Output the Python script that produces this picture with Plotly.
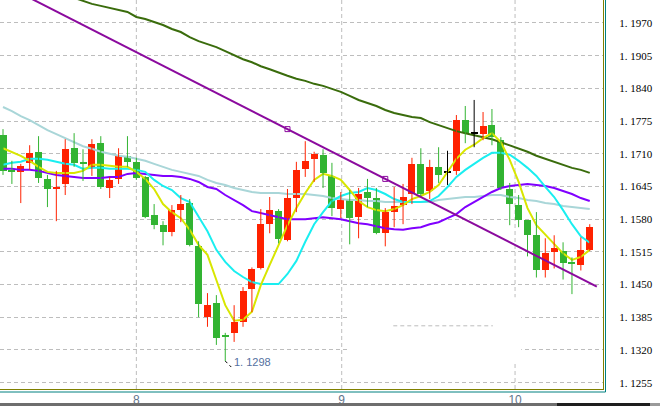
import plotly.graph_objects as go

# ---------------- data ----------------
open_ = [1.1747, 1.1675, 1.1674, 1.1692, 1.1714, 1.1660, 1.1641, 1.1650, 1.1721, 1.1691,
         1.1684, 1.1731, 1.1642, 1.1660, 1.1706, 1.1694, 1.1664, 1.1588, 1.1568, 1.1554,
         1.1598, 1.1612, 1.1526, 1.1385, 1.1413, 1.1347, 1.1354, 1.1375, 1.1441, 1.1482,
         1.1570, 1.1596, 1.1538, 1.1622, 1.1680, 1.1700, 1.1708, 1.1666, 1.1600, 1.1620,
         1.1584, 1.1634, 1.1622, 1.1552, 1.1594, 1.1608, 1.1630, 1.1690, 1.1636, 1.1684,
         1.1672, 1.1676, 1.1777, 1.1751, 1.1749, 1.1767, 1.1737, 1.1640, 1.1608, 1.1578,
         1.1548, 1.1478, 1.1514, 1.1516, 1.1493, 1.1488, 1.1518]
high_ = [1.1759, 1.1696, 1.1690, 1.1727, 1.1745, 1.1668, 1.1676, 1.1739, 1.1751, 1.1719,
         1.1739, 1.1745, 1.1664, 1.1721, 1.1745, 1.1702, 1.1666, 1.1610, 1.1576, 1.1608,
         1.1628, 1.1620, 1.1536, 1.1433, 1.1429, 1.1354, 1.1409, 1.1445, 1.1484, 1.1600,
         1.1624, 1.1600, 1.1640, 1.1694, 1.1735, 1.1714, 1.1719, 1.1692, 1.1634, 1.1638,
         1.1642, 1.1660, 1.1642, 1.1602, 1.1644, 1.1650, 1.1702, 1.1721, 1.1698, 1.1723,
         1.1716, 1.1787, 1.1805, 1.1817, 1.1793, 1.1799, 1.1743, 1.1652, 1.1628, 1.1578,
         1.1594, 1.1542, 1.1548, 1.1534, 1.1504, 1.1544, 1.1570]
low_ = [1.1668, 1.1650, 1.1612, 1.1678, 1.1652, 1.1604, 1.1576, 1.1628, 1.1684, 1.1656,
        1.1666, 1.1640, 1.1622, 1.1650, 1.1684, 1.1658, 1.1582, 1.1560, 1.1528, 1.1546,
        1.1574, 1.1526, 1.1385, 1.1366, 1.1330, 1.1298, 1.1336, 1.1366, 1.1395, 1.1480,
        1.1552, 1.1532, 1.1536, 1.1594, 1.1664, 1.1654, 1.1642, 1.1586, 1.1582, 1.1530,
        1.1542, 1.1604, 1.1550, 1.1526, 1.1564, 1.1570, 1.1610, 1.1624, 1.1620, 1.1652,
        1.1648, 1.1668, 1.1731, 1.1723, 1.1737, 1.1727, 1.1638, 1.1568, 1.1564, 1.1506,
        1.1464, 1.1464, 1.1482, 1.1460, 1.1431, 1.1478, 1.1517]
close_ = [1.1676, 1.1674, 1.1686, 1.1712, 1.1662, 1.1640, 1.1643, 1.1719, 1.1692, 1.1690,
          1.1729, 1.1644, 1.1658, 1.1706, 1.1694, 1.1662, 1.1584, 1.1568, 1.1554, 1.1598,
          1.1610, 1.1528, 1.1411, 1.1409, 1.1344, 1.1346, 1.1375, 1.1437, 1.1480, 1.1570,
          1.1598, 1.1540, 1.1622, 1.1678, 1.1696, 1.1710, 1.1672, 1.1602, 1.1618, 1.1582,
          1.1630, 1.1622, 1.1552, 1.1594, 1.1606, 1.1624, 1.1690, 1.1630, 1.1684, 1.1668,
          1.1672, 1.1777, 1.1751, 1.1751, 1.1765, 1.1743, 1.1642, 1.1610, 1.1578, 1.1548,
          1.1478, 1.1512, 1.1522, 1.1492, 1.1492, 1.1518, 1.1564]

ma_yellow = [1.1721, 1.1714, 1.1706, 1.1696, 1.1684, 1.1674, 1.1672, 1.1672, 1.1672, 1.1676,
             1.1688, 1.1688, 1.1686, 1.1684, 1.1684, 1.1674, 1.1660, 1.1640, 1.1610, 1.1594,
             1.1582, 1.1559, 1.1529, 1.1509, 1.1459, 1.1409, 1.1378, 1.1380, 1.1396, 1.1449,
             1.1489, 1.1529, 1.1568, 1.1602, 1.1632, 1.1658, 1.1670, 1.1666, 1.1658, 1.1638,
             1.1616, 1.1604, 1.1598, 1.1596, 1.1600, 1.1608, 1.1620, 1.1626, 1.1634, 1.1648,
             1.1674, 1.1700, 1.1718, 1.1728, 1.1741, 1.1751, 1.1733, 1.1698, 1.1654, 1.1602,
             1.1568, 1.1550, 1.1530, 1.1512, 1.1499, 1.1505, 1.1519]
ma_cyan = [1.1688, 1.1692, 1.1694, 1.1700, 1.1700, 1.1698, 1.1694, 1.1690, 1.1688, 1.1680,
           1.1682, 1.1682, 1.1680, 1.1680, 1.1680, 1.1678, 1.1674, 1.1658, 1.1646, 1.1638,
           1.1622, 1.1614, 1.1586, 1.1556, 1.1519, 1.1495, 1.1477, 1.1465, 1.1455, 1.1451,
           1.1451, 1.1451, 1.1471, 1.1497, 1.1535, 1.1570, 1.1594, 1.1616, 1.1626, 1.1632,
           1.1634, 1.1642, 1.1638, 1.1630, 1.1620, 1.1614, 1.1614, 1.1614, 1.1616, 1.1626,
           1.1644, 1.1664, 1.1678, 1.1690, 1.1702, 1.1712, 1.1712, 1.1708, 1.1696, 1.1682,
           1.1666, 1.1644, 1.1624, 1.1598, 1.1570, 1.1546, 1.1533]
ma_purple = [1.1680, 1.1680, 1.1678, 1.1678, 1.1676, 1.1672, 1.1668, 1.1666, 1.1664, 1.1662,
             1.1662, 1.1662, 1.1664, 1.1664, 1.1670, 1.1672, 1.1670, 1.1668, 1.1666, 1.1666,
             1.1664, 1.1660, 1.1654, 1.1644, 1.1640, 1.1628, 1.1618, 1.1608, 1.1596, 1.1592,
             1.1588, 1.1584, 1.1580, 1.1580, 1.1580, 1.1582, 1.1584, 1.1582, 1.1580, 1.1576,
             1.1572, 1.1570, 1.1566, 1.1562, 1.1560, 1.1559, 1.1562, 1.1564, 1.1570, 1.1574,
             1.1582, 1.1590, 1.1604, 1.1614, 1.1624, 1.1634, 1.1642, 1.1646, 1.1648, 1.1650,
             1.1648, 1.1646, 1.1642, 1.1636, 1.1630, 1.1622, 1.1616]
ma_lightblue = [1.1803, 1.1795, 1.1785, 1.1777, 1.1767, 1.1757, 1.1749, 1.1741, 1.1733, 1.1725,
                1.1720, 1.1714, 1.1710, 1.1706, 1.1704, 1.1700, 1.1696, 1.1690, 1.1684, 1.1678,
                1.1674, 1.1670, 1.1666, 1.1658, 1.1652, 1.1648, 1.1642, 1.1638, 1.1634, 1.1632,
                1.1632, 1.1632, 1.1630, 1.1630, 1.1630, 1.1628, 1.1626, 1.1622, 1.1620, 1.1618,
                1.1618, 1.1616, 1.1616, 1.1614, 1.1614, 1.1614, 1.1614, 1.1614, 1.1614, 1.1618,
                1.1620, 1.1622, 1.1624, 1.1624, 1.1626, 1.1628, 1.1628, 1.1624, 1.1622, 1.1618,
                1.1616, 1.1612, 1.1610, 1.1606, 1.1604, 1.1602, 1.1600]
darkgreen_start = 8
ma_darkgreen = [1.2020, 1.2014, 1.2008, 1.2004, 1.2000, 1.1996, 1.1992, 1.1982, 1.1978, 1.1972,
                1.1966, 1.1958, 1.1952, 1.1942, 1.1934, 1.1928, 1.1922, 1.1914, 1.1906, 1.1898,
                1.1892, 1.1884, 1.1878, 1.1871, 1.1865, 1.1859, 1.1855, 1.1849, 1.1845, 1.1839,
                1.1833, 1.1825, 1.1817, 1.1811, 1.1805, 1.1797, 1.1791, 1.1787, 1.1783, 1.1781,
                1.1773, 1.1767, 1.1761, 1.1755, 1.1751, 1.1747, 1.1743, 1.1739, 1.1733, 1.1727,
                1.1721, 1.1714, 1.1706, 1.1700, 1.1694, 1.1688, 1.1682, 1.1678, 1.1672]

trend_anchor_idx = [32, 43]
trend_anchor_price = [1.1759, 1.1660]
trend_span = [3.2, 66.8]

day_pos = [15.0, 38.1, 57.6]
day_labels = ["8", "9", "10"]

ytick_vals = [1.1970, 1.1905, 1.1840, 1.1775, 1.1710, 1.1645, 1.1580, 1.1515,
              1.1450, 1.1385, 1.1320, 1.1255]
ytick_text = ["1. 1970", "1. 1905", "1. 1840", "1. 1775", "1. 1710", "1. 1645",
              "1. 1580", "1. 1515", "1. 1450", "1. 1385", "1. 1320", "1. 1255"]

low_label = "1. 1298"
low_label_idx = 25

# ---------------- styles ----------------
C_UP = "#ff2200"
C_DOWN = "#32b432"
C_DOJI = "#000000"
C_YELLOW = "#d8e600"
C_CYAN = "#1aeef0"
C_PURPLE = "#8000ff"
C_LIGHT = "#a9d6d8"
C_DGREEN = "#3a6c0c"
C_TREND = "#8b0a9e"
GRID = "#bdbdbd"
OLIVE = "#808000"
TEAL = "#008080"

PLOT_W, PLOT_H = 603, 389
BODY_W = 0.79
MIN_BODY = 0.00022

fig = go.Figure()

n = len(open_)
idx = list(range(n))


def line(x, y, color, width=2):
    fig.add_trace(go.Scatter(x=x, y=y, mode="lines", line=dict(color=color, width=width),
                             hoverinfo="skip"))


line(idx, ma_lightblue, C_LIGHT)
line(list(range(darkgreen_start, darkgreen_start + len(ma_darkgreen))), ma_darkgreen, C_DGREEN)
line(idx, ma_purple, C_PURPLE)
line(idx, ma_cyan, C_CYAN)
line(idx, ma_yellow, C_YELLOW)

groups = {C_UP: [], C_DOWN: [], C_DOJI: []}
for i in idx:
    o, c = open_[i], close_[i]
    if c > o:
        groups[C_UP].append(i)
    elif c < o:
        groups[C_DOWN].append(i)
    else:
        groups[C_DOJI].append(i)

for color, members in groups.items():
    wx, wy = [], []
    for i in members:
        wx += [i, i, None]
        wy += [low_[i], high_[i], None]
    fig.add_trace(go.Scatter(x=wx, y=wy, mode="lines", line=dict(color=color, width=1),
                             hoverinfo="skip"))
    fig.add_trace(go.Bar(
        x=members,
        base=[min(open_[i], close_[i]) for i in members],
        y=[max(abs(close_[i] - open_[i]), MIN_BODY) for i in members],
        width=BODY_W,
        marker=dict(color=color, line=dict(width=0)),
        hoverinfo="skip",
    ))

# trend line through its two anchors
slope = (trend_anchor_price[1] - trend_anchor_price[0]) / (trend_anchor_idx[1] - trend_anchor_idx[0])
ty = [trend_anchor_price[0] + slope * (x - trend_anchor_idx[0]) for x in trend_span]
line(trend_span, ty, C_TREND)
fig.add_trace(go.Scatter(x=trend_anchor_idx, y=trend_anchor_price, mode="markers",
                         marker=dict(symbol="square-open", size=5, color=C_TREND,
                                     line=dict(width=1, color=C_TREND)),
                         hoverinfo="skip"))

# ---------------- layout ----------------
x_lo = -3 / 8.89
x_hi = (PLOT_W - 3) / 8.89
y_hi = 1.20157
y_lo = y_hi - PLOT_H * 0.0001988

shapes = []
# blank patch over the grid (as in the source screenshot)
shapes.append(dict(type="rect", xref="x", yref="y", x0=38.8, x1=58.3, y0=1.1296, y1=1.1425,
                   fillcolor="white", line=dict(width=0), layer="between"))
shapes.append(dict(type="line", xref="x", yref="y", x0=43.9, x1=55.1, y0=1.1368, y1=1.1368,
                   line=dict(color=GRID, width=1, dash="4px,3px"), layer="between"))
for p in day_pos:
    shapes.append(dict(type="line", xref="x", yref="paper", x0=p, x1=p, y0=0, y1=1,
                       line=dict(color=GRID, width=1, dash="4px,3px"), layer="between"))
# teal outer frame
tx = 1 + 2.5 / PLOT_W
tyb = -3 / PLOT_H
shapes.append(dict(type="line", xref="paper", yref="paper", x0=0, x1=tx, y0=tyb, y1=tyb,
                   line=dict(color=TEAL, width=1)))
shapes.append(dict(type="line", xref="paper", yref="paper", x0=tx, x1=tx, y0=tyb, y1=1,
                   line=dict(color=TEAL, width=1)))
# bottom scroll bar
sb0 = -(403 - PLOT_H) / PLOT_H
sb1 = -(406.5 - PLOT_H) / PLOT_H
shapes.append(dict(type="rect", xref="paper", yref="paper", x0=0, x1=557 / PLOT_W, y0=sb1, y1=sb0,
                   fillcolor="#6e6e6e", line=dict(width=0)))
shapes.append(dict(type="rect", xref="paper", yref="paper", x0=557 / PLOT_W, x1=650 / PLOT_W,
                   y0=sb1, y1=sb0, fillcolor="#1e1e1e", line=dict(width=0)))
shapes.append(dict(type="rect", xref="paper", yref="paper", x0=650 / PLOT_W, x1=660 / PLOT_W,
                   y0=sb1, y1=sb0, fillcolor="#9a9a9a", line=dict(width=0)))
# leader of the low label
shapes.append(dict(type="line", xref="x", yref="y", xsizemode="pixel", ysizemode="pixel",
                   xanchor=low_label_idx, yanchor=low_[low_label_idx], x0=0, x1=6, y0=0, y1=-6,
                   line=dict(color="black", width=1, dash="dot")))

fig.update_layout(
    width=660, height=406,
    margin=dict(l=0, r=660 - PLOT_W, t=0, b=406 - PLOT_H),
    paper_bgcolor="white", plot_bgcolor="white",
    showlegend=False, barmode="overlay", bargap=0,
    shapes=shapes,
    xaxis=dict(range=[x_lo, x_hi], tickvals=day_pos, ticktext=day_labels,
               showgrid=False, zeroline=False, showline=True, linecolor=OLIVE, linewidth=1,
               ticks="", tickfont=dict(family="Liberation Sans", size=12, color="#62748a")),
    yaxis=dict(side="right", range=[y_lo, y_hi], tickvals=ytick_vals, ticktext=ytick_text,
               showgrid=True, gridcolor=GRID, gridwidth=1, griddash="4px,3px",
               zeroline=False, showline=True, linecolor=OLIVE, linewidth=1,
               ticks="", ticklabelstandoff=13,
               tickfont=dict(family="Liberation Serif", size=11, color="black")),
    annotations=[dict(x=low_label_idx, y=low_[low_label_idx], xref="x", yref="y",
                      text=low_label, showarrow=False, xanchor="left", yanchor="middle",
                      xshift=7, yshift=-1,
                      font=dict(family="Liberation Sans", size=11, color="#5470a0"))],
)

fig.write_html(
    "out.html",
    config={"displayModeBar": False},
    post_script="document.body.style.margin='0';document.body.style.overflow='hidden';",
)
